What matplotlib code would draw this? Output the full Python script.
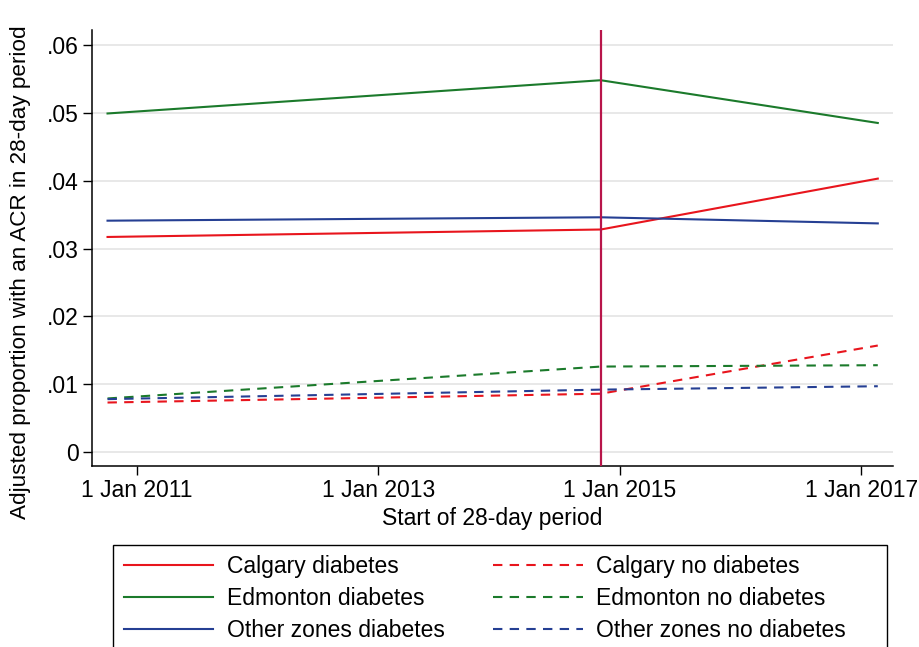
import matplotlib
matplotlib.use("Agg")
import matplotlib.pyplot as plt
from matplotlib.patches import Rectangle
import numpy as np

plt.rcParams['font.family'] = ['Liberation Sans', 'DejaVu Sans']

# period start dates (first, break point, last)
dates = np.array(['2010-10-05', '2014-11-05', '2017-02-20'], dtype='datetime64[D]')
break_date = np.datetime64('2014-11-05')

calgary_dm = [0.0317, 0.0328, 0.0403]
edmonton_dm = [0.0499, 0.0548, 0.0485]
other_dm = [0.0341, 0.0346, 0.0337]
calgary_nodm = [0.0073, 0.0086, 0.0157]
edmonton_nodm = [0.0079, 0.0126, 0.0128]
other_nodm = [0.0078, 0.0092, 0.0097]

red = '#e8151d'
green = '#1b7a2b'
blue = '#253f93'
dash = (0, (4.5, 3.5))

fig = plt.figure(figsize=(9.19, 6.47), dpi=100)
ax = fig.add_axes([0.1001, 0.2797, 0.8716, 0.6739])

ax.axvline(break_date, color='#b8154a', lw=1.6, zorder=3)

ax.plot(dates, calgary_dm, color=red, lw=1.5, label='Calgary diabetes')
ax.plot(dates, calgary_nodm, color=red, lw=1.5, ls=dash, label='Calgary no diabetes')
ax.plot(dates, edmonton_dm, color=green, lw=1.5, label='Edmonton diabetes')
ax.plot(dates, edmonton_nodm, color=green, lw=1.5, ls=dash, label='Edmonton no diabetes')
ax.plot(dates, other_dm, color=blue, lw=1.5, label='Other zones diabetes')
ax.plot(dates, other_nodm, color=blue, lw=1.5, ls=dash, label='Other zones no diabetes')

ax.set_xlim(np.datetime64('2010-08-19'), np.datetime64('2017-04-07'))
ax.set_ylim(-0.00206, 0.0622)

xt = np.array(['2011-01-01', '2013-01-01', '2015-01-01', '2017-01-01'], dtype='datetime64[D]')
ax.set_xticks(xt)
ax.set_xticklabels(['1 Jan 2011', '1 Jan 2013', '1 Jan 2015', '1 Jan 2017'], fontsize=16.5)
yt = [0, 0.01, 0.02, 0.03, 0.04, 0.05, 0.06]
ax.set_yticks(yt)
ax.set_yticklabels(['0', '.01', '.02', '.03', '.04', '.05', '.06'], fontsize=16.5)
ax.tick_params(direction='out', length=6.5, width=1, color='black', pad=3)

ax.grid(axis='y', color='#e6e6e6', lw=1.3)
ax.set_axisbelow(True)
for s in ['top', 'right']:
    ax.spines[s].set_visible(False)
for s in ['left', 'bottom']:
    ax.spines[s].set_color('black')
    ax.spines[s].set_linewidth(1.1)

ax.set_xlabel('Start of 28-day period', fontsize=16.5)
ax.xaxis.set_label_coords(0.5, -0.093)
ax.set_ylabel('Adjusted proportion with an ACR in 28-day period', fontsize=16.2)
ax.yaxis.set_label_coords(-0.076, 0.445)

h, l = ax.get_legend_handles_labels()
order = [0, 2, 4, 1, 3, 5]
leg = fig.legend([h[i] for i in order], [l[i] for i in order], ncol=2,
                 loc='upper left', bbox_to_anchor=(124 / 919, 1 - 555 / 647),
                 fontsize=16.5, frameon=False, handlelength=3.9, handletextpad=0.6,
                 labelspacing=0.4, borderpad=0, borderaxespad=0, columnspacing=2.1)
fig.patches.append(Rectangle((113 / 919, -0.05), 774 / 919, 0.05 + 1 - 545 / 647,
                             transform=fig.transFigure, fill=False,
                             edgecolor='black', lw=1.0))

fig.savefig('out.png', dpi=100)
